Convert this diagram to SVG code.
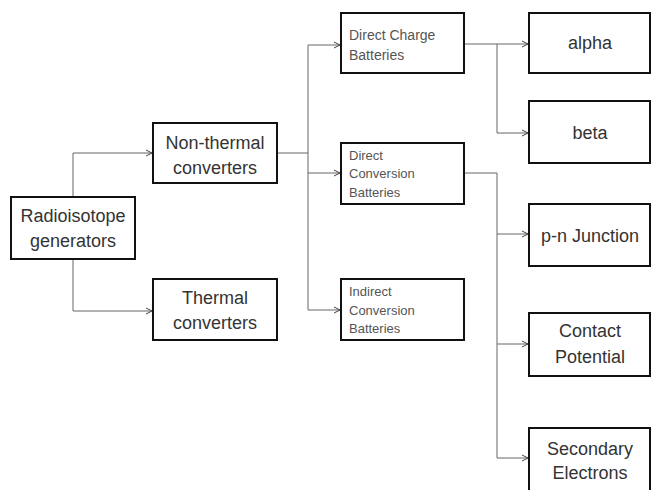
<svg xmlns="http://www.w3.org/2000/svg" width="652" height="490" viewBox="0 0 652 490">
<defs>
<marker id="arr" markerWidth="8" markerHeight="8" refX="7" refY="4" orient="auto" markerUnits="userSpaceOnUse">
<path d="M1,1 L7,4 L1,7" fill="none" stroke="#444" stroke-width="1"/>
</marker>
<style>
.box{fill:#fff;stroke:#111;stroke-width:2}
.big{font-family:"Liberation Sans",Arial,sans-serif;font-size:18px;fill:#333;text-anchor:middle}
.small{font-family:"Liberation Sans",Arial,sans-serif;font-size:13px;fill:#555}
.dc{font-size:14px}
.con{fill:none;stroke:#666;stroke-width:1}
</style>
</defs>
<rect width="652" height="490" fill="#fff"/>
<g id="connectors">
<path class="con" d="M73,197 V153 H152" marker-end="url(#arr)"/>
<path class="con" d="M73,259 V311 H152" marker-end="url(#arr)"/>
<path class="con" d="M277,153 H308"/>
<path class="con" d="M308,310 V45 H340" marker-end="url(#arr)"/>
<path class="con" d="M308,173 H340" marker-end="url(#arr)"/>
<path class="con" d="M308,310 H340" marker-end="url(#arr)"/>
<path class="con" d="M464,44 H528" marker-end="url(#arr)"/>
<path class="con" d="M497,44 V133 H528" marker-end="url(#arr)"/>
<path class="con" d="M464,173 H497 V458 H528" marker-end="url(#arr)"/>
<path class="con" d="M497,234 H528" marker-end="url(#arr)"/>
<path class="con" d="M497,344 H528" marker-end="url(#arr)"/>
</g>
<g id="radioisotope">
<rect class="box" x="11" y="197" width="124" height="62"/>
<text class="big" x="73" y="222">Radioisotope</text>
<text class="big" x="73" y="247">generators</text>
</g>
<g id="nonthermal">
<rect class="box" x="153" y="123" width="124" height="60"/>
<text class="big" x="215" y="149">Non-thermal</text>
<text class="big" x="215" y="174">converters</text>
</g>
<g id="thermal">
<rect class="box" x="153" y="279" width="124" height="61"/>
<text class="big" x="215" y="304">Thermal</text>
<text class="big" x="215" y="329">converters</text>
</g>
<g id="directcharge">
<rect class="box" x="341" y="13" width="123" height="60"/>
<text class="small dc" x="349" y="40">Direct Charge</text>
<text class="small dc" x="349" y="60">Batteries</text>
</g>
<g id="directconversion">
<rect class="box" x="341" y="143" width="123" height="61"/>
<text class="small" x="349" y="160">Direct</text>
<text class="small" x="349" y="178">Conversion</text>
<text class="small" x="349" y="197">Batteries</text>
</g>
<g id="indirectconversion">
<rect class="box" x="341" y="279" width="123" height="61"/>
<text class="small" x="349" y="296">Indirect</text>
<text class="small" x="349" y="315">Conversion</text>
<text class="small" x="349" y="333">Batteries</text>
</g>
<g id="alpha">
<rect class="box" x="529" y="13" width="121" height="60"/>
<text class="big" x="590" y="49">alpha</text>
</g>
<g id="beta">
<rect class="box" x="529" y="101" width="121" height="62"/>
<text class="big" x="590" y="139">beta</text>
</g>
<g id="pnjunction">
<rect class="box" x="529" y="204" width="121" height="62"/>
<text class="big" x="590" y="242">p-n Junction</text>
</g>
<g id="contactpotential">
<rect class="box" x="529" y="313" width="121" height="63"/>
<text class="big" x="590" y="337">Contact</text>
<text class="big" x="590" y="363">Potential</text>
</g>
<g id="secondaryelectrons">
<rect class="box" x="529" y="428" width="121" height="70"/>
<text class="big" x="590" y="455">Secondary</text>
<text class="big" x="590" y="479">Electrons</text>
</g>
</svg>
